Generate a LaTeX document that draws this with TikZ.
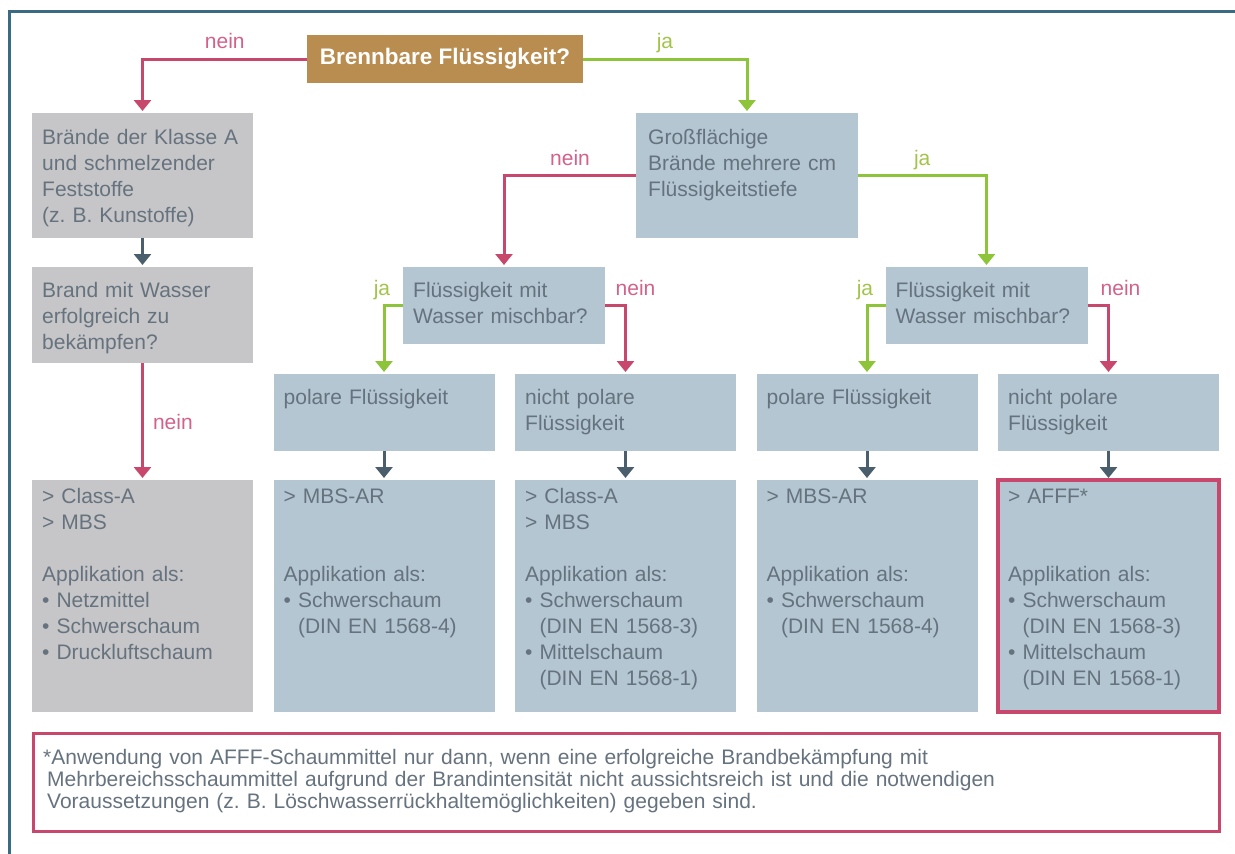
\documentclass[tikz,border=0pt]{standalone}
\usepackage{fontspec}
\setmainfont{Liberation Sans}
\usetikzlibrary{positioning,arrows.meta}
\definecolor{framecol}{HTML}{3B6B82}
\definecolor{brncol}{HTML}{B98C50}
\definecolor{boxgrey}{HTML}{C6C6C8}
\definecolor{boxblue}{HTML}{B3C6D2}
\definecolor{txtcol}{HTML}{66737E}
\definecolor{neincol}{HTML}{C8476C}
\definecolor{neintxt}{HTML}{D2628A}
\definecolor{jacol}{HTML}{8DC43A}
\definecolor{jatxt}{HTML}{A2C44A}
\definecolor{downcol}{HTML}{4A5E6C}
\newcommand{\boxfont}{\fontsize{21}{26}\selectfont}
\newcommand{\bulind}{\hphantom{•}\ }
\frenchspacing

\begin{document}
\begin{tikzpicture}[x=1pt,y=-1pt,
    box/.style={fill=boxblue, minimum width=221pt, inner sep=0pt, outer sep=0pt},
    greybox/.style={box, fill=boxgrey},
    txt/.style={anchor=base west, inner sep=0pt, text width=200pt, align=left, text=txtcol, font=\boxfont},
    link/.style={line width=3pt, -{Triangle[width=17pt,length=11pt]}, shorten >=2pt},
    nein/.style={link, draw=neincol},
    ja/.style={link, draw=jacol},
    downlink/.style={link, draw=downcol},
    lbl/.style={inner sep=0pt, text depth=0pt, font=\boxfont}]
  \useasboundingbox (0,0) rectangle (1235,854);
  \draw[framecol, line width=3pt] (9,854) -- (9,11) -- (1235,11);

  \node[fill=brncol, minimum width=276pt, minimum height=48pt, inner sep=0pt, outer sep=0pt, text=white, font=\fontsize{22.5}{26}\selectfont\bfseries] (brenn) at (445,59) {Brennbare Flüssigkeit?};

  \node[greybox, minimum height=125pt, anchor=north west] (a1) at (32,113) {};
  \node[greybox, minimum height=96pt, below=29pt of a1] (a2) {};
  \node[greybox, minimum height=232pt, below=117pt of a2] (a3) {};
  \node[box, minimum height=232pt, right=20.5pt of a3] (r2) {};
  \node[box, minimum height=232pt, right=20.5pt of r2] (r3) {};
  \node[box, minimum height=232pt, right=20.5pt of r3] (r4) {};
  \node[box, minimum height=232pt, right=20.5pt of r4, draw=neincol, line width=3.5pt] (r5) {};
  \node[box, minimum height=77pt, above=29pt of r2] (p1) {};
  \node[box, minimum height=77pt, above=29pt of r3] (n1) {};
  \node[box, minimum height=77pt, above=29pt of r4] (p2) {};
  \node[box, minimum height=77pt, above=29pt of r5] (n2) {};
  \node[box, minimum width=202pt, minimum height=77pt, anchor=north] (m1) at (504,267) {};
  \node[box, minimum width=202pt, minimum height=77pt, anchor=north] (m2) at (986.5,267) {};
  \node[box, minimum width=222pt, minimum height=125pt, anchor=north] (g) at (747,113) {};

  \node[txt] (a1t) at ([shift={(10,31)}]a1.north west) {Brände der Klasse A\\und schmelzender\\Feststoffe\\(z. B. Kunstoffe)};
  \node[txt] (a2t) at ([shift={(10,30)}]a2.north west) {Brand mit Wasser\\erfolgreich zu\\bekämpfen?};
  \node[txt] (gt) at ([shift={(12,31)}]g.north west) {Großflächige\\Brände mehrere cm\\Flüssigkeitstiefe};
  \node[txt] (m1t) at ([shift={(10,30)}]m1.north west) {Flüssigkeit mit\\Wasser mischbar?};
  \node[txt] (m2t) at ([shift={(10,30)}]m2.north west) {Flüssigkeit mit\\Wasser mischbar?};
  \node[txt] (p1t) at ([shift={(10,30)}]p1.north west) {polare Flüssigkeit};
  \node[txt] (n1t) at ([shift={(10,30)}]n1.north west) {nicht polare\\Flüssigkeit};
  \node[txt] (p2t) at ([shift={(10,30)}]p2.north west) {polare Flüssigkeit};
  \node[txt] (n2t) at ([shift={(10,30)}]n2.north west) {nicht polare\\Flüssigkeit};
  \node[txt] (a3t) at ([shift={(10,23)}]a3.north west) {> Class-A\\> MBS\\[26pt]Applikation als:\\• Netzmittel\\• Schwerschaum\\• Druckluftschaum};
  \node[txt] (r2t) at ([shift={(10,23)}]r2.north west) {> MBS-AR\\[52pt]Applikation als:\\• Schwerschaum\\\bulind(DIN EN 1568-4)};
  \node[txt] (r3t) at ([shift={(10,23)}]r3.north west) {> Class-A\\> MBS\\[26pt]Applikation als:\\• Schwerschaum\\\bulind(DIN EN 1568-3)\\• Mittelschaum\\\bulind(DIN EN 1568-1)};
  \node[txt] (r4t) at ([shift={(10,23)}]r4.north west) {> MBS-AR\\[52pt]Applikation als:\\• Schwerschaum\\\bulind(DIN EN 1568-4)};
  \node[txt] (r5t) at ([shift={(10,23)}]r5.north west) {> AFFF*\\[52pt]Applikation als:\\• Schwerschaum\\\bulind(DIN EN 1568-3)\\• Mittelschaum\\\bulind(DIN EN 1568-1)};

  \draw[nein] (brenn.west) -| node[lbl, above=9pt, pos=0.25, text=neintxt] {nein} (a1.north);
  \draw[ja] (brenn.east) -| node[lbl, above=9pt, pos=0.25, text=jatxt] {ja} (g.north);
  \draw[downlink] (a1.south) -- (a2.north);
  \draw[nein] (a2.south) -- node[lbl, right=9pt, midway, text=neintxt] {nein} (a3.north);
  \draw[nein] (g.west) -| node[lbl, above=9pt, pos=0.25, text=neintxt] {nein} (m1.north);
  \draw[ja] (g.east) -| node[lbl, above=9pt, pos=0.25, text=jatxt] {ja} (m2.north);
  \draw[ja] (m1.west) -| node[lbl, above=9pt, pos=0.5, xshift=-2pt, text=jatxt] {ja} (p1.north);
  \draw[nein] (m1.east) -| node[lbl, above=9pt, pos=0.5, xshift=10pt, text=neintxt] {nein} (n1.north);
  \draw[ja] (m2.west) -| node[lbl, above=9pt, pos=0.5, xshift=-2pt, text=jatxt] {ja} (p2.north);
  \draw[nein] (m2.east) -| node[lbl, above=9pt, pos=0.5, xshift=12pt, text=neintxt] {nein} (n2.north);
  \draw[downlink] (p1.south) -- (r2.north);
  \draw[downlink] (n1.south) -- (r3.north);
  \draw[downlink] (p2.south) -- (r4.north);
  \draw[downlink] (n2.south) -- (r5.north);

  \node[draw=neincol, line width=3pt, fill=white, minimum width=1186pt, minimum height=98pt, inner sep=0pt, outer sep=0pt, anchor=north west] (note) at (33,733) {};
  \node[txt, text width=1170pt, font=\fontsize{21}{22}\selectfont] (notet) at ([shift={(10,31)}]note.north west) {*Anwendung von AFFF-Schaummittel nur dann, wenn eine erfolgreiche Brandbekämpfung mit\\\hspace*{4pt}Mehrbereichsschaummittel aufgrund der Brandintensität nicht aussichtsreich ist und die notwendigen\\\hspace*{4pt}Voraussetzungen (z. B. Löschwasserrückhaltemöglichkeiten) gegeben sind.};
\end{tikzpicture}
\end{document}
